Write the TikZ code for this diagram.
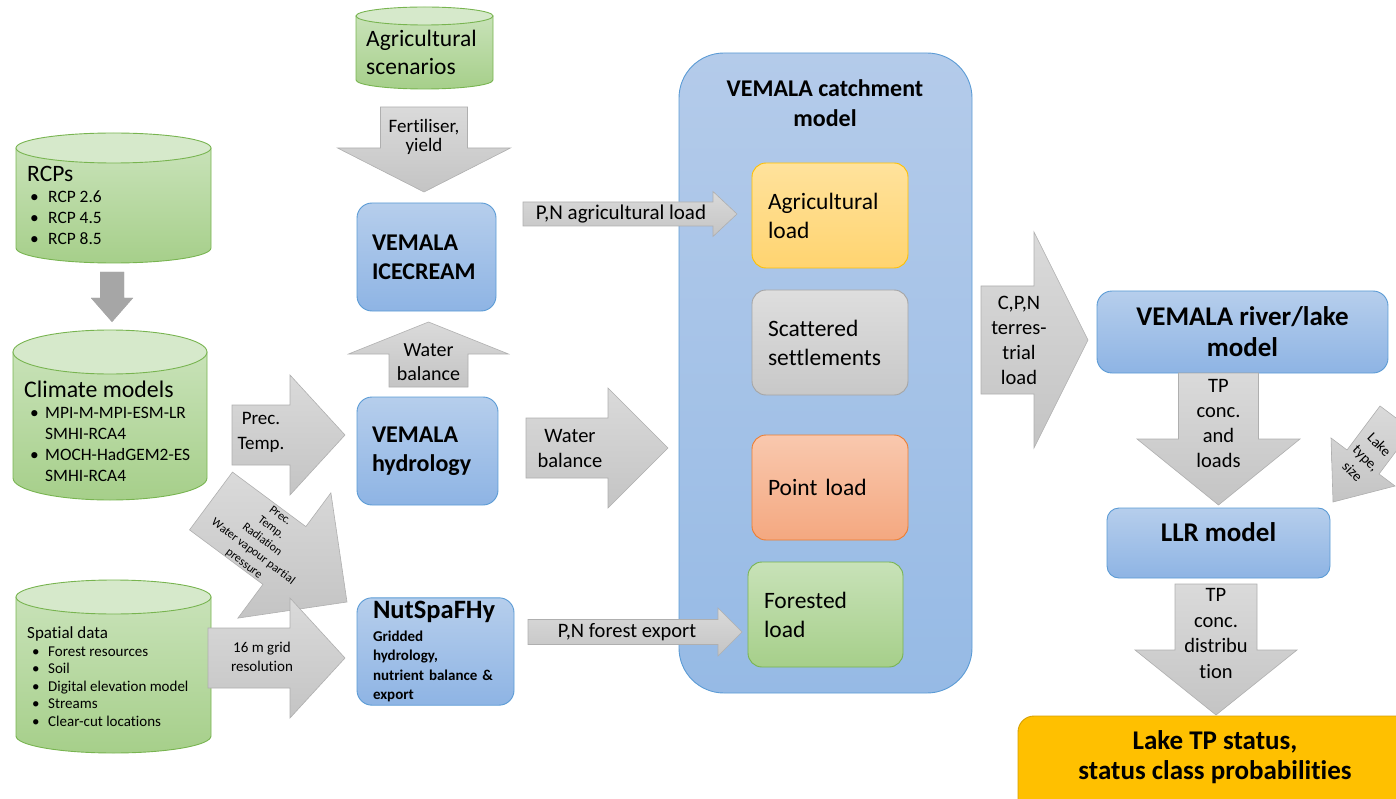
\documentclass[tikz,border=0pt]{standalone}
\usepackage{fontspec}
\setmainfont{Carlito}[Ligatures=NoCommon]
\usetikzlibrary{calc,positioning}

\definecolor{drumtop}{RGB}{200,226,184}
\definecolor{drumbot}{RGB}{166,207,138}
\definecolor{drumlid}{RGB}{214,233,203}
\definecolor{drumline}{RGB}{120,180,80}
\definecolor{bluetop}{RGB}{182,206,236}
\definecolor{bluebot}{RGB}{142,180,228}
\definecolor{blueline}{RGB}{91,155,213}
\definecolor{catchtop}{RGB}{180,203,234}
\definecolor{catchbot}{RGB}{150,186,229}
\definecolor{greytop}{RGB}{218,218,218}
\definecolor{greybot}{RGB}{196,196,196}
\definecolor{greyline}{RGB}{175,175,175}
\definecolor{darkgrey}{RGB}{166,166,166}
\definecolor{agritop}{RGB}{255,226,156}
\definecolor{agribot}{RGB}{255,212,112}
\definecolor{agriline}{RGB}{255,192,0}
\definecolor{scattop}{RGB}{222,222,222}
\definecolor{scatbot}{RGB}{200,200,200}
\definecolor{scatline}{RGB}{165,165,165}
\definecolor{pointtop}{RGB}{249,200,174}
\definecolor{pointbot}{RGB}{244,168,128}
\definecolor{pointline}{RGB}{237,125,49}
\definecolor{statusfill}{RGB}{255,192,0}
\definecolor{statusline}{RGB}{214,160,0}

\newcommand{\sz}[2]{\fontsize{#1}{#2}\selectfont}

% cylinder: left, top, right, bottom, lid half height
\newcommand{\drum}[5]{%
  \pgfmathsetmacro{\dcx}{(#1+#3)/2}
  \pgfmathsetmacro{\drx}{(#3-#1)/2}
  \path[drumbody] (#1,{#2+#5}) -- (#1,{#4-#5})
     .. controls (#1,{#4-0.448*#5}) and ({\dcx-0.552*\drx},#4) .. (\dcx,#4)
     .. controls ({\dcx+0.552*\drx},#4) and (#3,{#4-0.448*#5}) .. (#3,{#4-#5})
     -- (#3,{#2+#5}) -- cycle;
  \path[drumlid] (\dcx,{#2+#5}) ellipse [x radius=\drx pt, y radius=#5pt];
}

% block arrow: [style], from, to, shaft half width, head half width, head length
\newcommand{\blockarrow}[6][]{%
  \coordinate (ba-h) at ($(#3)!#6!(#2)$);
  \path[greyarrow,#1] ($(#2)!#4!90:(#3)$) -- ($(ba-h)!#4!90:(#3)$)
     -- ($(ba-h)!#5!90:(#3)$) -- (#3) -- ($(ba-h)!#5!-90:(#3)$)
     -- ($(ba-h)!#4!-90:(#3)$) -- ($(#2)!#4!-90:(#3)$) -- cycle;
}

\tikzset{
  drumbody/.style={draw=drumline, line width=0.9pt, top color=drumtop, bottom color=drumbot},
  drumlid/.style={draw=drumline, line width=0.9pt, fill=drumlid},
  greyarrow/.style={draw=greyline, line width=0.6pt, top color=greytop, bottom color=greybot},
  darkarrow/.style={draw=none, fill=darkgrey, top color=darkgrey, bottom color=darkgrey},
  bluebox/.style={draw=blueline, line width=0.9pt, rounded corners=15pt,
    top color=bluetop, bottom color=bluebot, align=left, inner xsep=15pt,
    font=\bfseries\sz{24}{29}},
  loadbox/.style={line width=0.9pt, rounded corners=14pt, minimum width=156pt,
    minimum height=105pt, text width=124pt, inner xsep=16pt, align=left,
    font=\sz{23.5}{29}},
  lbl/.style={inner sep=0pt, align=center, font=\sz{20.5}{25}},
  itemtxt/.style={inner sep=0pt, anchor=base west},
}

\begin{document}
\begin{tikzpicture}[x=1pt,y=-1pt]
  \useasboundingbox (0,0) rectangle (1396,799);
  \clip (0,0) rectangle (1396,799);

  % data cylinders
  \drum{356}{7}{493}{89}{9}
  \node[itemtxt, align=left, font=\sz{23.5}{28}] (agriscen) at (366,75) {Agricultural\\scenarios};

  \drum{16}{133}{211}{263}{15}
  \node[itemtxt, font=\sz{23.5}{28}] (rcps) at (27,182) {RCPs};
  \foreach[count=\i] \rcp in {RCP 2.6, RCP 4.5, RCP 8.5}
  {
    \node[itemtxt, font=\sz{17.4}{20}] (rcpb\i) at (30,{182+21*\i}) {\textbullet};
    \node[itemtxt, font=\sz{17.4}{20}] (rcp\i) at (48,{182+21*\i}) {\rcp};
  }

  \drum{13}{330}{207}{500}{22}
  \node[itemtxt, font=\sz{23.8}{28}] (climate) at (24,397) {Climate models};
  \foreach[count=\i] \gcm in {MPI-M-MPI-ESM-LR, SMHI-RCA4, MOCH-HadGEM2-ES, SMHI-RCA4}
  {
    \node[itemtxt, font=\sz{17.4}{20}] (gcm\i) at (45,{397+21*\i}) {\gcm};
  }
  \node[itemtxt, font=\sz{17.4}{20}] (gcmb1) at (30,418) {\textbullet};
  \node[itemtxt, font=\sz{17.4}{20}] (gcmb2) at (30,460) {\textbullet};

  \drum{16}{580}{211}{753}{17}
  \node[itemtxt, font=\sz{17}{20}] (spatial) at (27,638) {Spatial data};
  \foreach[count=\i] \layer in {Forest resources, Soil, Digital elevation model, Streams, Clear-cut locations}
  {
    \node[itemtxt, font=\sz{15}{18}] (layerb\i) at (32,{638.5+17.6*\i}) {\textbullet};
    \node[itemtxt, font=\sz{15}{18}] (layer\i) at (48,{638.5+17.6*\i}) {\layer};
  }

  % model boxes
  \node[bluebox, minimum width=139pt, minimum height=108pt, text width=109pt] (ice) at (426.5,257) {VEMALA\\ICECREAM};
  \node[bluebox, minimum width=141pt, minimum height=108pt, text width=111pt] (hydro) at (427.5,451) {VEMALA\\hydrology};
  \node[bluebox, minimum width=157pt, minimum height=107pt, text width=125pt, inner xsep=16pt,
    font=\bfseries\sz{15}{19.5}] (nut) at (435.5,651.5) {{\sz{26.5}{28}NutSpaFHy}\\[3pt]Gridded\\hydrology,\\nutrient balance \&\\export};

  \node[draw=blueline, line width=0.9pt, rounded corners=45pt, top color=catchtop, bottom color=catchbot,
    minimum width=293pt, minimum height=640pt] (catch) at (825.5,373) {};
  \node[lbl, font=\bfseries\sz{24}{30}] (catchtitle) at (825,103) {VEMALA catchment\\model};

  \node[loadbox, draw=agriline, top color=agritop, bottom color=agribot] (agriload) at (830,215.5) {Agricultural\\load};
  \node[loadbox, draw=scatline, top color=scattop, bottom color=scatbot] (scatter) at (830,342.5) {Scattered\\settlements};
  \node[loadbox, draw=pointline, top color=pointtop, bottom color=pointbot] (pointload) at (830,487.5) {Point load};
  \node[loadbox, draw=drumline, top color=drumtop, bottom color=drumbot, minimum width=155pt, text width=123pt] (forestload) at (825.5,614.5) {Forested\\load};

  \node[bluebox, align=center, inner xsep=5pt, minimum width=291pt, minimum height=82pt, font=\bfseries\sz{27}{31}] (river) at (1242.5,332) {VEMALA river/lake\\model};
  \node[bluebox, align=center, inner xsep=5pt, rounded corners=12pt, minimum width=223pt, minimum height=70pt, font=\bfseries\sz{27}{30}] (llr) at (1218.5,543) {LLR model\\[-8pt]};

  \path[draw=statusline, line width=0.9pt, fill=statusfill, rounded corners=16pt] (1018,716) rectangle (1430,840);
  \node[lbl, font=\bfseries\sz{27}{30}] (status) at (1215,757) {Lake TP status,\\status class probabilities};

  % block arrows
  \coordinate (rcp-s) at (112,272);  \coordinate (rcp-e) at (112,322);
  \blockarrow[darkarrow]{rcp-s}{rcp-e}{12pt}{21pt}{24pt}

  \coordinate (fert-s) at (424,107); \coordinate (fert-e) at (424,192);
  \blockarrow{fert-s}{fert-e}{43.5pt}{86.5pt}{44pt}
  \node[lbl, font=\sz{19}{19}] (ferttxt) at (424,137) {Fertiliser,\\yield};

  \coordinate (wup-s) at (428.5,387); \coordinate (wup-e) at (428.5,322);
  \blockarrow{wup-s}{wup-e}{39.5pt}{80pt}{32pt}
  \node[lbl, font=\sz{20}{24}] (wuptxt) at (428.5,362) {Water\\balance};

  \coordinate (pna-s) at (523,214); \coordinate (pna-e) at (737,214);
  \blockarrow{pna-s}{pna-e}{12pt}{22.5pt}{24pt}
  \node[lbl, font=\sz{21}{25}] (pnatxt) at (621,214) {P,N agricultural load};

  \coordinate (wr-s) at (526,448); \coordinate (wr-e) at (668,448);
  \blockarrow{wr-s}{wr-e}{30pt}{60pt}{60pt}
  \node[lbl] (wrtxt) at (570,448) {Water\\balance};

  \coordinate (prec-s) at (232,435); \coordinate (prec-e) at (345,435);
  \blockarrow{prec-s}{prec-e}{30pt}{60pt}{55pt}
  \node[lbl, font=\sz{19}{25}] (prectxt) at (261,432) {Prec.\\Temp.};

  \coordinate (met-s) at (211,501); \coordinate (met-e) at (347,602);
  \blockarrow{met-s}{met-e}{36pt}{78pt}{78pt}
  \node[lbl, rotate=-37, font=\sz{12}{15}] (mettxt) at (262,540) {Prec.\\Temp.\\Radiation\\Water vapour partial\\pressure};

  \coordinate (grid-s) at (208,658); \coordinate (grid-e) at (345,658);
  \blockarrow{grid-s}{grid-e}{30pt}{60pt}{55pt}
  \node[lbl, font=\sz{15}{19}] (gridtxt) at (262,657) {16 m grid\\resolution};

  \coordinate (pnf-s) at (528,632); \coordinate (pnf-e) at (742,632);
  \blockarrow{pnf-s}{pnf-e}{12.5pt}{24pt}{24pt}
  \node[lbl] (pnftxt) at (627,632) {P,N forest export};

  \coordinate (cpn-s) at (981,340); \coordinate (cpn-e) at (1088,340);
  \blockarrow{cpn-s}{cpn-e}{54pt}{108pt}{54pt}
  \node[lbl] (cpntxt) at (1019,340) {C,P,N\\terres-\\trial\\load};

  \coordinate (tpc-s) at (1218.5,373); \coordinate (tpc-e) at (1218.5,505);
  \blockarrow{tpc-s}{tpc-e}{40pt}{81.5pt}{66pt}
  \node[lbl] (tpctxt) at (1218.5,423.5) {TP\\conc.\\and\\loads};

  \coordinate (tpd-s) at (1216,584); \coordinate (tpd-e) at (1216,715);
  \blockarrow{tpd-s}{tpd-e}{41pt}{81pt}{65pt}
  \node[lbl, font=\sz{20.5}{25.5}] (tpdtxt) at (1216,633.5) {TP\\conc.\\distribu\\tion};

  \coordinate (lake-s) at (1396,418); \coordinate (lake-e) at (1333,502);
  \blockarrow{lake-s}{lake-e}{20pt}{40pt}{50pt}
  \node[lbl, rotate=-45, font=\sz{14.5}{19}] (laketxt) at (1366,458) {Lake\\type,\\size};
\end{tikzpicture}
\end{document}
